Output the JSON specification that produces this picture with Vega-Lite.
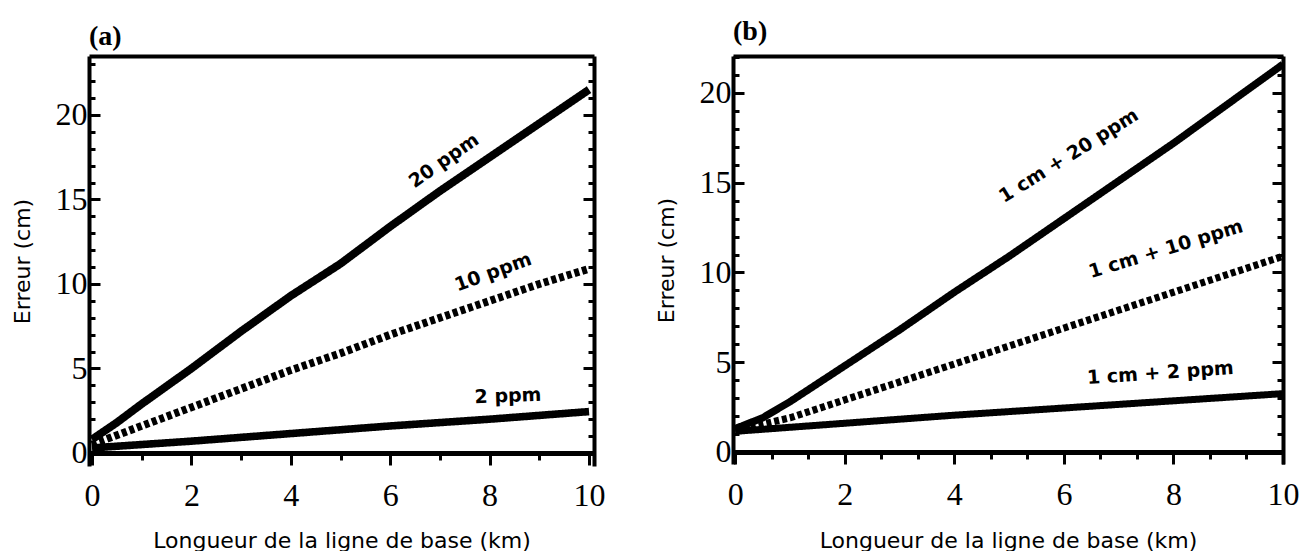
{
  "$schema": "https://vega.github.io/schema/vega-lite/v6.json",
  "background": "white",
  "padding": {"left": 11, "top": 18, "right": 5, "bottom": 0},
  "align": "none",
  "bounds": "full",
  "spacing": 49,
  "datasets": {
    "a_lines": [
      {"s": "20 ppm", "km": 0, "err": 0.8}, {"s": "20 ppm", "km": 0.5, "err": 1.8}, {"s": "20 ppm", "km": 1, "err": 2.9}, {"s": "20 ppm", "km": 2, "err": 5.0}, {"s": "20 ppm", "km": 3, "err": 7.2}, {"s": "20 ppm", "km": 4, "err": 9.3}, {"s": "20 ppm", "km": 5, "err": 11.2}, {"s": "20 ppm", "km": 6, "err": 13.4}, {"s": "20 ppm", "km": 7, "err": 15.5}, {"s": "20 ppm", "km": 8, "err": 17.5}, {"s": "20 ppm", "km": 9, "err": 19.5}, {"s": "20 ppm", "km": 10, "err": 21.5},
      {"s": "10 ppm", "km": 0, "err": 0.5}, {"s": "10 ppm", "km": 1, "err": 1.6}, {"s": "10 ppm", "km": 2, "err": 2.7}, {"s": "10 ppm", "km": 3, "err": 3.8}, {"s": "10 ppm", "km": 4, "err": 4.9}, {"s": "10 ppm", "km": 5, "err": 5.9}, {"s": "10 ppm", "km": 6, "err": 7.0}, {"s": "10 ppm", "km": 7, "err": 8.0}, {"s": "10 ppm", "km": 8, "err": 9.0}, {"s": "10 ppm", "km": 9, "err": 10.0}, {"s": "10 ppm", "km": 10, "err": 10.9},
      {"s": "2 ppm", "km": 0, "err": 0.3}, {"s": "2 ppm", "km": 2, "err": 0.7}, {"s": "2 ppm", "km": 4, "err": 1.15}, {"s": "2 ppm", "km": 6, "err": 1.6}, {"s": "2 ppm", "km": 8, "err": 2.0}, {"s": "2 ppm", "km": 10, "err": 2.45}
    ],
    "a_labels": [
      {"label": "20 ppm", "km": 7.08, "err": 17.3},
      {"label": "10 ppm", "km": 8.07, "err": 10.7},
      {"label": "2 ppm", "km": 8.37, "err": 3.37}
    ],
    "b_lines": [
      {"s": "1 cm + 20 ppm", "km": 0, "err": 1.3}, {"s": "1 cm + 20 ppm", "km": 0.5, "err": 1.9}, {"s": "1 cm + 20 ppm", "km": 1, "err": 2.8}, {"s": "1 cm + 20 ppm", "km": 2, "err": 4.8}, {"s": "1 cm + 20 ppm", "km": 3, "err": 6.8}, {"s": "1 cm + 20 ppm", "km": 4, "err": 8.9}, {"s": "1 cm + 20 ppm", "km": 5, "err": 10.9}, {"s": "1 cm + 20 ppm", "km": 6, "err": 13.0}, {"s": "1 cm + 20 ppm", "km": 7, "err": 15.1}, {"s": "1 cm + 20 ppm", "km": 8, "err": 17.2}, {"s": "1 cm + 20 ppm", "km": 9, "err": 19.4}, {"s": "1 cm + 20 ppm", "km": 10, "err": 21.6},
      {"s": "1 cm + 10 ppm", "km": 0, "err": 1.2}, {"s": "1 cm + 10 ppm", "km": 1, "err": 1.9}, {"s": "1 cm + 10 ppm", "km": 2, "err": 2.9}, {"s": "1 cm + 10 ppm", "km": 3, "err": 3.9}, {"s": "1 cm + 10 ppm", "km": 4, "err": 4.9}, {"s": "1 cm + 10 ppm", "km": 5, "err": 5.9}, {"s": "1 cm + 10 ppm", "km": 6, "err": 6.9}, {"s": "1 cm + 10 ppm", "km": 7, "err": 7.9}, {"s": "1 cm + 10 ppm", "km": 8, "err": 8.9}, {"s": "1 cm + 10 ppm", "km": 9, "err": 9.9}, {"s": "1 cm + 10 ppm", "km": 10, "err": 10.9},
      {"s": "1 cm + 2 ppm", "km": 0, "err": 1.15}, {"s": "1 cm + 2 ppm", "km": 2, "err": 1.6}, {"s": "1 cm + 2 ppm", "km": 4, "err": 2.05}, {"s": "1 cm + 2 ppm", "km": 6, "err": 2.45}, {"s": "1 cm + 2 ppm", "km": 8, "err": 2.85}, {"s": "1 cm + 2 ppm", "km": 10, "err": 3.25}
    ],
    "b_labels": [
      {"label": "1 cm + 20 ppm", "km": 6.09, "err": 16.5},
      {"label": "1 cm + 10 ppm", "km": 7.86, "err": 11.3},
      {"label": "1 cm + 2 ppm", "km": 7.76, "err": 4.4}
    ]
  },
  "hconcat": [
    {
      "width": 505,
      "height": 410,
      "title": {"text": "(a)", "anchor": "start", "frame": "group", "font": "Liberation Serif", "fontSize": 28, "fontWeight": "bold", "color": "black", "offset": -3},
      "layer": [
        {
          "data": {"name": "a_lines"},
          "mark": {"type": "line", "color": "black", "strokeCap": "butt"},
          "encoding": {
            "x": {"field": "km", "type": "quantitative", "scale": {"domain": [-0.06, 10.1], "nice": false, "zero": false},
              "axis": {"orient": "bottom", "offset": -13, "values": [0,1,2,3,4,5,6,7,8,9,10], "labelExpr": "datum.value % 2 === 0 ? datum.label : ''",
                "tickSize": {"condition": {"test": "datum.value % 2 === 0", "value": 12}, "value": 7}, "tickWidth": 3, "tickColor": "black",
                "domainWidth": 5, "domainColor": "black", "grid": false, "labelFlush": false, "labelOverlap": false,
                "labelFont": "Liberation Serif", "labelFontSize": 32, "labelColor": "black", "labelPadding": 15,
                "title": "Longueur de la ligne de base (km)", "titleFont": "DejaVu Sans", "titleFontSize": 22, "titleFontWeight": "normal", "titleColor": "black", "titlePadding": 19}},
            "y": {"field": "err", "type": "quantitative", "scale": {"domain": [-0.77, 23.49], "nice": false, "zero": false},
              "axis": {"orient": "left", "values": [0,1,2,3,4,5,6,7,8,9,10,11,12,13,14,15,16,17,18,19,20,21,22,23], "labelExpr": "datum.value % 5 === 0 ? datum.label : ''",
                "tickSize": {"condition": {"test": "datum.value % 5 === 0", "value": -11}, "value": -6}, "tickWidth": 3, "tickColor": "black",
                "domainWidth": 4, "domainColor": "black", "grid": false, "labelOverlap": false,
                "labelFont": "Liberation Serif", "labelFontSize": 32, "labelColor": "black", "labelPadding": 13, "labelBaseline": "middle",
                "title": "Erreur (cm)", "titleFont": "DejaVu Sans", "titleFontSize": 22, "titleFontWeight": "normal", "titleColor": "black", "titlePadding": 21}},
            "detail": {"field": "s", "type": "nominal"},
            "strokeWidth": {"field": "s", "type": "nominal", "scale": {"domain": ["20 ppm", "10 ppm", "2 ppm"], "range": [8, 7, 5]}, "legend": null},
            "strokeDash": {"field": "s", "type": "nominal", "scale": {"domain": ["20 ppm", "10 ppm", "2 ppm"], "range": [[1, 0], [5, 3], [1, 0]]}, "legend": null}
          }
        },
        {
          "data": {"name": "a_lines"},
          "mark": {"type": "point", "opacity": 0},
          "encoding": {
            "x": {"field": "km", "type": "quantitative", "axis": {"orient": "top", "ticks": false, "labels": false, "minExtent": 0, "domainWidth": 4, "domainColor": "black", "grid": false, "title": null}},
            "y": {"field": "err", "type": "quantitative",
              "axis": {"orient": "right", "values": [0,1,2,3,4,5,6,7,8,9,10,11,12,13,14,15,16,17,18,19,20,21,22,23], "labels": false, "minExtent": 0,
                "tickSize": {"condition": {"test": "datum.value % 5 === 0", "value": -11}, "value": -6}, "tickWidth": 3, "tickColor": "black",
                "domainWidth": 4, "domainColor": "black", "grid": false, "title": null}}
          }
        },
        {
          "data": {"name": "a_labels"},
          "transform": [{"filter": "datum.label === '20 ppm'"}],
          "mark": {"type": "text", "angle": 325, "font": "DejaVu Sans", "fontWeight": "bold", "fontSize": 19, "color": "black", "align": "center", "baseline": "middle"},
          "encoding": {"x": {"field": "km", "type": "quantitative", "axis": null}, "y": {"field": "err", "type": "quantitative", "axis": null}, "text": {"field": "label"}}
        },
        {
          "data": {"name": "a_labels"},
          "transform": [{"filter": "datum.label === '10 ppm'"}],
          "mark": {"type": "text", "angle": 340, "font": "DejaVu Sans", "fontWeight": "bold", "fontSize": 19, "color": "black", "align": "center", "baseline": "middle"},
          "encoding": {"x": {"field": "km", "type": "quantitative", "axis": null}, "y": {"field": "err", "type": "quantitative", "axis": null}, "text": {"field": "label"}}
        },
        {
          "data": {"name": "a_labels"},
          "transform": [{"filter": "datum.label === '2 ppm'"}],
          "mark": {"type": "text", "angle": 358, "font": "DejaVu Sans", "fontWeight": "bold", "fontSize": 19, "color": "black", "align": "center", "baseline": "middle"},
          "encoding": {"x": {"field": "km", "type": "quantitative", "axis": null}, "y": {"field": "err", "type": "quantitative", "axis": null}, "text": {"field": "label"}}
        }
      ],
      "resolve": {"axis": {"x": "independent", "y": "independent"}}
    },
    {
      "width": 550,
      "height": 408,
      "title": {"text": "(b)", "anchor": "start", "frame": "group", "font": "Liberation Serif", "fontSize": 28, "fontWeight": "bold", "color": "black", "offset": -5},
      "layer": [
        {
          "data": {"name": "b_lines"},
          "mark": {"type": "line", "color": "black", "strokeCap": "butt"},
          "encoding": {
            "x": {"field": "km", "type": "quantitative", "scale": {"domain": [-0.04, 10], "nice": false, "zero": false},
              "axis": {"orient": "bottom", "offset": -12, "values": [0,0.6667,1.3333,2,2.6667,3.3333,4,4.6667,5.3333,6,6.6667,7.3333,8,8.6667,9.3333,10],
                "labelExpr": "abs(datum.value - round(datum.value)) < 0.01 && round(datum.value) % 2 === 0 ? format(datum.value, 'd') : ''",
                "tickSize": {"condition": {"test": "abs(datum.value - round(datum.value)) < 0.01 && round(datum.value) % 2 === 0", "value": 12}, "value": 7}, "tickWidth": 3, "tickColor": "black",
                "domainWidth": 5, "domainColor": "black", "grid": false, "labelFlush": false, "labelOverlap": false,
                "labelFont": "Liberation Serif", "labelFontSize": 32, "labelColor": "black", "labelPadding": 15,
                "title": "Longueur de la ligne de base (km)", "titleFont": "DejaVu Sans", "titleFontSize": 22, "titleFontWeight": "normal", "titleColor": "black", "titlePadding": 20}},
            "y": {"field": "err", "type": "quantitative", "scale": {"domain": [-0.67, 22.06], "nice": false, "zero": false},
              "axis": {"orient": "left", "values": [0,1,2,3,4,5,6,7,8,9,10,11,12,13,14,15,16,17,18,19,20,21,22], "labelExpr": "datum.value % 5 === 0 ? datum.label : ''",
                "tickSize": {"condition": {"test": "datum.value % 5 === 0", "value": -11}, "value": -6}, "tickWidth": 3, "tickColor": "black",
                "domainWidth": 4, "domainColor": "black", "grid": false, "labelOverlap": false,
                "labelFont": "Liberation Serif", "labelFontSize": 32, "labelColor": "black", "labelPadding": 13, "labelBaseline": "middle",
                "title": "Erreur (cm)", "titleFont": "DejaVu Sans", "titleFontSize": 22, "titleFontWeight": "normal", "titleColor": "black", "titlePadding": 21}},
            "detail": {"field": "s", "type": "nominal"},
            "strokeWidth": {"field": "s", "type": "nominal", "scale": {"domain": ["1 cm + 20 ppm", "1 cm + 10 ppm", "1 cm + 2 ppm"], "range": [12, 7, 5]}, "legend": null},
            "strokeDash": {"field": "s", "type": "nominal", "scale": {"domain": ["1 cm + 20 ppm", "1 cm + 10 ppm", "1 cm + 2 ppm"], "range": [[1, 0], [5, 3], [1, 0]]}, "legend": null}
          }
        },
        {
          "data": {"name": "b_lines"},
          "mark": {"type": "point", "opacity": 0},
          "encoding": {
            "x": {"field": "km", "type": "quantitative", "axis": {"orient": "top", "ticks": false, "labels": false, "minExtent": 0, "domainWidth": 4, "domainColor": "black", "grid": false, "title": null}},
            "y": {"field": "err", "type": "quantitative",
              "axis": {"orient": "right", "values": [0,1,2,3,4,5,6,7,8,9,10,11,12,13,14,15,16,17,18,19,20,21,22], "labels": false, "minExtent": 0,
                "tickSize": {"condition": {"test": "datum.value % 5 === 0", "value": -11}, "value": -6}, "tickWidth": 3, "tickColor": "black",
                "domainWidth": 4, "domainColor": "black", "grid": false, "title": null}}
          }
        },
        {
          "data": {"name": "b_labels"},
          "transform": [{"filter": "datum.label === '1 cm + 20 ppm'"}],
          "mark": {"type": "text", "angle": 328, "font": "DejaVu Sans", "fontWeight": "bold", "fontSize": 19, "color": "black", "align": "center", "baseline": "middle"},
          "encoding": {"x": {"field": "km", "type": "quantitative", "axis": null}, "y": {"field": "err", "type": "quantitative", "axis": null}, "text": {"field": "label"}}
        },
        {
          "data": {"name": "b_labels"},
          "transform": [{"filter": "datum.label === '1 cm + 10 ppm'"}],
          "mark": {"type": "text", "angle": 343, "font": "DejaVu Sans", "fontWeight": "bold", "fontSize": 19, "color": "black", "align": "center", "baseline": "middle"},
          "encoding": {"x": {"field": "km", "type": "quantitative", "axis": null}, "y": {"field": "err", "type": "quantitative", "axis": null}, "text": {"field": "label"}}
        },
        {
          "data": {"name": "b_labels"},
          "transform": [{"filter": "datum.label === '1 cm + 2 ppm'"}],
          "mark": {"type": "text", "angle": 356, "font": "DejaVu Sans", "fontWeight": "bold", "fontSize": 19, "color": "black", "align": "center", "baseline": "middle"},
          "encoding": {"x": {"field": "km", "type": "quantitative", "axis": null}, "y": {"field": "err", "type": "quantitative", "axis": null}, "text": {"field": "label"}}
        }
      ],
      "resolve": {"axis": {"x": "independent", "y": "independent"}}
    }
  ],
  "config": {"view": {"stroke": null}, "font": "DejaVu Sans"}
}
